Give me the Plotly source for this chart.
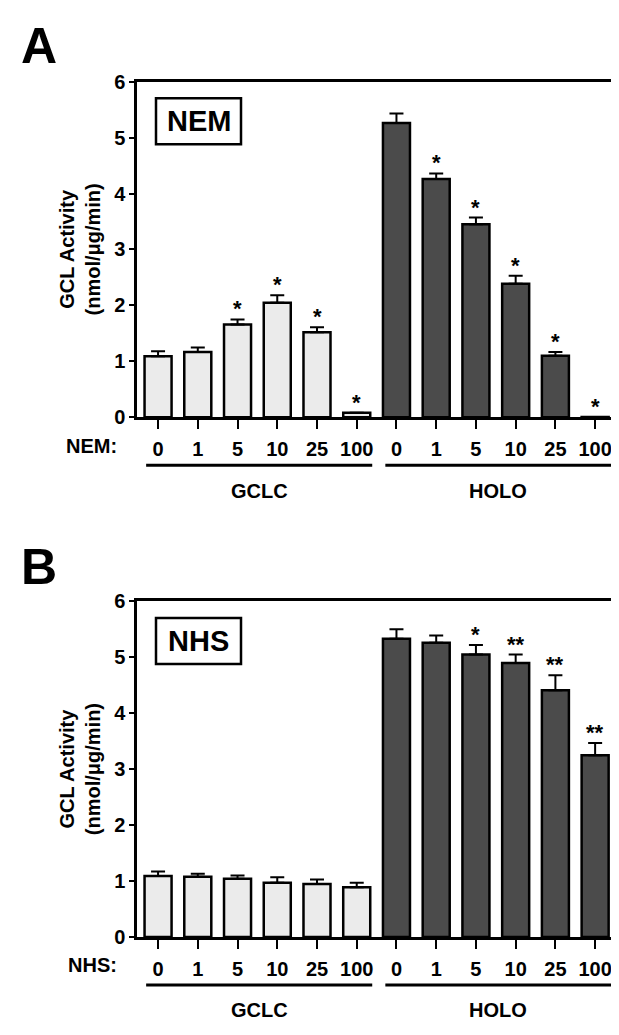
import plotly.graph_objects as go

W, H = 619, 1035

conc_labels = ["0", "1", "5", "10", "25", "100"]
groups = ["GCLC", "HOLO"]

nem_gclc = [1.09, 1.17, 1.66, 2.05, 1.52, 0.08]
nem_gclc_err = [0.09, 0.08, 0.09, 0.13, 0.09, 0.0]
nem_gclc_sig = ["", "", "*", "*", "*", "*"]
nem_holo = [5.26, 4.26, 3.45, 2.39, 1.10, 0.005]
nem_holo_err = [0.17, 0.10, 0.12, 0.14, 0.07, 0.0]
nem_holo_sig = ["", "*", "*", "*", "*", "*"]

nhs_gclc = [1.09, 1.08, 1.04, 0.97, 0.95, 0.89]
nhs_gclc_err = [0.08, 0.05, 0.06, 0.10, 0.08, 0.08]
nhs_gclc_sig = ["", "", "", "", "", ""]
nhs_holo = [5.33, 5.26, 5.05, 4.90, 4.41, 3.25]
nhs_holo_err = [0.17, 0.13, 0.17, 0.15, 0.27, 0.22]
nhs_holo_sig = ["", "", "*", "**", "**", "**"]

LIGHT = "#ebebeb"
DARK = "#4b4b4b"
FONT = "Arial, Liberation Sans, sans-serif"

def px_x(p):
    return p / W

def px_y(p):
    return 1 - p / H

fig = go.Figure()

panels = [
    dict(name="NEM", letter="A", gclc=nem_gclc, gerr=nem_gclc_err, gsig=nem_gclc_sig,
         holo=nem_holo, herr=nem_holo_err, hsig=nem_holo_sig, top=64, bottom=407,
         xa="x", ya="y", xl="xaxis", yl="yaxis", letter_y=28),
    dict(name="NHS", letter="B", gclc=nhs_gclc, gerr=nhs_gclc_err, gsig=nhs_gclc_sig,
         holo=nhs_holo, herr=nhs_holo_err, hsig=nhs_holo_sig, top=595, bottom=938,
         xa="x2", ya="y2", xl="xaxis2", yl="yaxis2", letter_y=560),
]

xg = list(range(6))
xh = list(range(6, 12))
ann = []
shapes = []
layout_axes = {}
for p in panels:
    for xs, vals, errs, col in [(xg, p["gclc"], p["gerr"], LIGHT), (xh, p["holo"], p["herr"], DARK)]:
        fig.add_trace(go.Bar(
            x=xs, y=vals, xaxis=p["xa"], yaxis=p["ya"], width=0.68,
            marker=dict(color=col, line=dict(color="black", width=2.5)),
            error_y=dict(type="data", array=errs, arrayminus=[0] * len(errs), symmetric=False,
                         color="black", thickness=2, width=7),
            showlegend=False, hoverinfo="skip",
        ))
    for xs, vals, errs, sigs in [(xg, p["gclc"], p["gerr"], p["gsig"]), (xh, p["holo"], p["herr"], p["hsig"])]:
        for xi, v, e, s in zip(xs, vals, errs, sigs):
            if s:
                ann.append(dict(x=xi, y=v + e, xref=p["xa"], yref=p["ya"], text="<b>%s</b>" % s,
                                showarrow=False, yanchor="bottom", yshift=-4,
                                font=dict(family=FONT, size=22, color="black")))
    top, bottom = p["top"], p["bottom"]
    dom = [px_y(bottom), px_y(top)]
    layout_axes[p["xl"]] = dict(
        domain=[px_x(129), px_x(607)], range=[-0.53, 11.5], anchor=p["ya"],
        tickvals=list(range(12)), ticktext=conc_labels * 2,
        ticks="outside", ticklen=9, tickwidth=2, tickcolor="black",
        showline=True, linewidth=2.5, linecolor="black", mirror=True,
        showgrid=False, zeroline=False, ticklabelstandoff=3,
        tickfont=dict(family=FONT, size=20, color="black", weight="bold"),
    )
    layout_axes[p["yl"]] = dict(
        domain=dom, range=[0, 6], dtick=1, anchor=p["xa"],
        ticks="outside", ticklen=5, tickwidth=2, tickcolor="black",
        showline=True, linewidth=2.5, linecolor="black", mirror=True,
        showgrid=False, zeroline=False,
        tickfont=dict(family=FONT, size=20, color="black", weight="bold"),
    )
    # y title
    ann.append(dict(x=px_x(72), y=px_y((top + bottom) / 2), xref="paper", yref="paper",
                    text="<b>GCL Activity<br>(nmol/\u03bcg/min)</b>", textangle=-90,
                    showarrow=False, xanchor="center", yanchor="middle",
                    font=dict(family=FONT, size=20, color="black")))
    # panel letter
    ann.append(dict(x=px_x(11), y=px_y(p["letter_y"]), xref="paper", yref="paper",
                    text="<b>%s</b>" % p["letter"], showarrow=False, xanchor="left", yanchor="middle",
                    font=dict(family=FONT, size=50, color="black")))
    # treatment label box
    ann.append(dict(x=px_x(190.5), y=px_y(top + 40.5), xref="paper", yref="paper",
                    text="<b>%s</b>" % p["name"], showarrow=False, xanchor="center", yanchor="middle",
                    font=dict(family=FONT, size=29, color="black")))
    shapes.append(dict(type="rect", xref="paper", yref="paper",
                       x0=px_x(148), x1=px_x(233), y0=px_y(top + 64), y1=px_y(top + 17),
                       line=dict(color="black", width=2.5), fillcolor="white", layer="below"))
    # row label
    ann.append(dict(x=px_x(111), y=px_y(bottom + 29), xref="paper", yref="paper",
                    text="<b>%s:</b>" % p["name"], showarrow=False, xanchor="right", yanchor="middle",
                    font=dict(family=FONT, size=20, color="black")))
    # group lines and labels
    for (x0, x1), g in zip([(-0.30, 5.39), (5.72, 11.41)], groups):
        shapes.append(dict(type="line", xref=p["xa"], yref="paper", x0=x0, x1=x1,
                           y0=px_y(bottom + 49), y1=px_y(bottom + 49),
                           line=dict(color="black", width=3)))
        ann.append(dict(x=(x0 + x1) / 2, y=px_y(bottom + 75), xref=p["xa"], yref="paper",
                        text="<b>%s</b>" % g, showarrow=False, xanchor="center", yanchor="middle",
                        font=dict(family=FONT, size=20, color="black")))

fig.update_layout(
    width=W, height=H, margin=dict(l=0, r=0, t=0, b=0),
    paper_bgcolor="white", plot_bgcolor="white",
    annotations=ann, shapes=shapes, bargap=0.32,
    **layout_axes,
)

fig.write_html("out.html")
